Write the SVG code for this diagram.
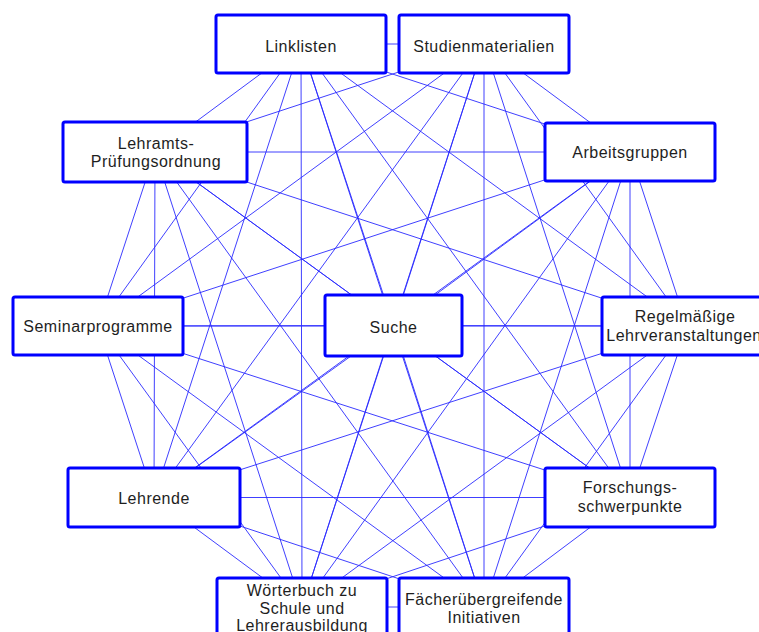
<svg xmlns="http://www.w3.org/2000/svg" width="759" height="632" viewBox="0 0 759 632">
<style>
.e{stroke:#2a2aff;stroke-width:0.9;fill:none}
.b{fill:#ffffff;stroke:#0000ff;stroke-width:3}
.t{font-family:"Liberation Sans",Arial,sans-serif;font-size:16px;letter-spacing:0.5px;fill:#1e1e1e;text-anchor:middle}
</style>
<rect width="759" height="632" fill="#ffffff"/>
<g id="connectors">
<line class="e" x1="301" y1="44" x2="484" y2="44"/>
<line class="e" x1="301" y1="44" x2="630" y2="152"/>
<line class="e" x1="301" y1="44" x2="687" y2="326"/>
<line class="e" x1="301" y1="44" x2="630" y2="497.5"/>
<line class="e" x1="301" y1="44" x2="484" y2="607"/>
<line class="e" x1="301" y1="44" x2="302" y2="607"/>
<line class="e" x1="301" y1="44" x2="154" y2="497.5"/>
<line class="e" x1="301" y1="44" x2="98" y2="326"/>
<line class="e" x1="301" y1="44" x2="155" y2="152"/>
<line class="e" x1="301" y1="44" x2="393.5" y2="325.5"/>
<line class="e" x1="484" y1="44" x2="630" y2="152"/>
<line class="e" x1="484" y1="44" x2="687" y2="326"/>
<line class="e" x1="484" y1="44" x2="630" y2="497.5"/>
<line class="e" x1="484" y1="44" x2="484" y2="607"/>
<line class="e" x1="484" y1="44" x2="302" y2="607"/>
<line class="e" x1="484" y1="44" x2="154" y2="497.5"/>
<line class="e" x1="484" y1="44" x2="98" y2="326"/>
<line class="e" x1="484" y1="44" x2="155" y2="152"/>
<line class="e" x1="484" y1="44" x2="393.5" y2="325.5"/>
<line class="e" x1="630" y1="152" x2="687" y2="326"/>
<line class="e" x1="630" y1="152" x2="630" y2="497.5"/>
<line class="e" x1="630" y1="152" x2="484" y2="607"/>
<line class="e" x1="630" y1="152" x2="302" y2="607"/>
<line class="e" x1="630" y1="152" x2="154" y2="497.5"/>
<line class="e" x1="630" y1="152" x2="98" y2="326"/>
<line class="e" x1="630" y1="152" x2="155" y2="152"/>
<line class="e" x1="630" y1="152" x2="393.5" y2="325.5"/>
<line class="e" x1="687" y1="326" x2="630" y2="497.5"/>
<line class="e" x1="687" y1="326" x2="484" y2="607"/>
<line class="e" x1="687" y1="326" x2="302" y2="607"/>
<line class="e" x1="687" y1="326" x2="154" y2="497.5"/>
<line class="e" x1="687" y1="326" x2="98" y2="326"/>
<line class="e" x1="687" y1="326" x2="155" y2="152"/>
<line class="e" x1="687" y1="326" x2="393.5" y2="325.5"/>
<line class="e" x1="630" y1="497.5" x2="484" y2="607"/>
<line class="e" x1="630" y1="497.5" x2="302" y2="607"/>
<line class="e" x1="630" y1="497.5" x2="154" y2="497.5"/>
<line class="e" x1="630" y1="497.5" x2="98" y2="326"/>
<line class="e" x1="630" y1="497.5" x2="155" y2="152"/>
<line class="e" x1="630" y1="497.5" x2="393.5" y2="325.5"/>
<line class="e" x1="484" y1="607" x2="302" y2="607"/>
<line class="e" x1="484" y1="607" x2="154" y2="497.5"/>
<line class="e" x1="484" y1="607" x2="98" y2="326"/>
<line class="e" x1="484" y1="607" x2="155" y2="152"/>
<line class="e" x1="484" y1="607" x2="393.5" y2="325.5"/>
<line class="e" x1="302" y1="607" x2="154" y2="497.5"/>
<line class="e" x1="302" y1="607" x2="98" y2="326"/>
<line class="e" x1="302" y1="607" x2="155" y2="152"/>
<line class="e" x1="302" y1="607" x2="393.5" y2="325.5"/>
<line class="e" x1="154" y1="497.5" x2="98" y2="326"/>
<line class="e" x1="154" y1="497.5" x2="155" y2="152"/>
<line class="e" x1="154" y1="497.5" x2="393.5" y2="325.5"/>
<line class="e" x1="98" y1="326" x2="155" y2="152"/>
<line class="e" x1="98" y1="326" x2="393.5" y2="325.5"/>
<line class="e" x1="155" y1="152" x2="393.5" y2="325.5"/>
</g>
<g id="linklisten"><rect class="b" x="216" y="15" width="170" height="58" rx="2"/><text class="t" x="301" y="52">Linklisten</text></g>
<g id="studienmaterialien"><rect class="b" x="399" y="15" width="170" height="58" rx="2"/><text class="t" x="484" y="52">Studienmaterialien</text></g>
<g id="lehramts"><rect class="b" x="63" y="122" width="184" height="60" rx="2"/><text class="t" x="156" y="149">Lehramts-</text><text class="t" x="156" y="167">Prüfungsordnung</text></g>
<g id="arbeitsgruppen"><rect class="b" x="545" y="123" width="170" height="58" rx="2"/><text class="t" x="630" y="158">Arbeitsgruppen</text></g>
<g id="seminarprogramme"><rect class="b" x="13" y="297" width="170" height="58" rx="2"/><text class="t" x="98" y="332">Seminarprogramme</text></g>
<g id="suche"><rect class="b" x="325" y="295" width="137" height="61" rx="2"/><text class="t" x="393.5" y="333">Suche</text></g>
<g id="regelmaessige"><rect class="b" x="602" y="297" width="170" height="58" rx="2"/><text class="t" x="685" y="322">Regelmäßige</text><text class="t" x="684" y="341">Lehrveranstaltungen</text></g>
<g id="lehrende"><rect class="b" x="68" y="468" width="172" height="59" rx="2"/><text class="t" x="154" y="504">Lehrende</text></g>
<g id="forschung"><rect class="b" x="545" y="468" width="170" height="59" rx="2"/><text class="t" x="630" y="493">Forschungs-</text><text class="t" x="630" y="512">schwerpunkte</text></g>
<g id="woerterbuch"><rect class="b" x="217" y="578" width="170" height="58" rx="2"/><text class="t" x="302" y="596">Wörterbuch zu</text><text class="t" x="302" y="614">Schule und</text><text class="t" x="302" y="631">Lehrerausbildung</text></g>
<g id="faecher"><rect class="b" x="399" y="578" width="170" height="58" rx="2"/><text class="t" x="484" y="605">Fächerübergreifende</text><text class="t" x="484" y="623">Initiativen</text></g>
</svg>
